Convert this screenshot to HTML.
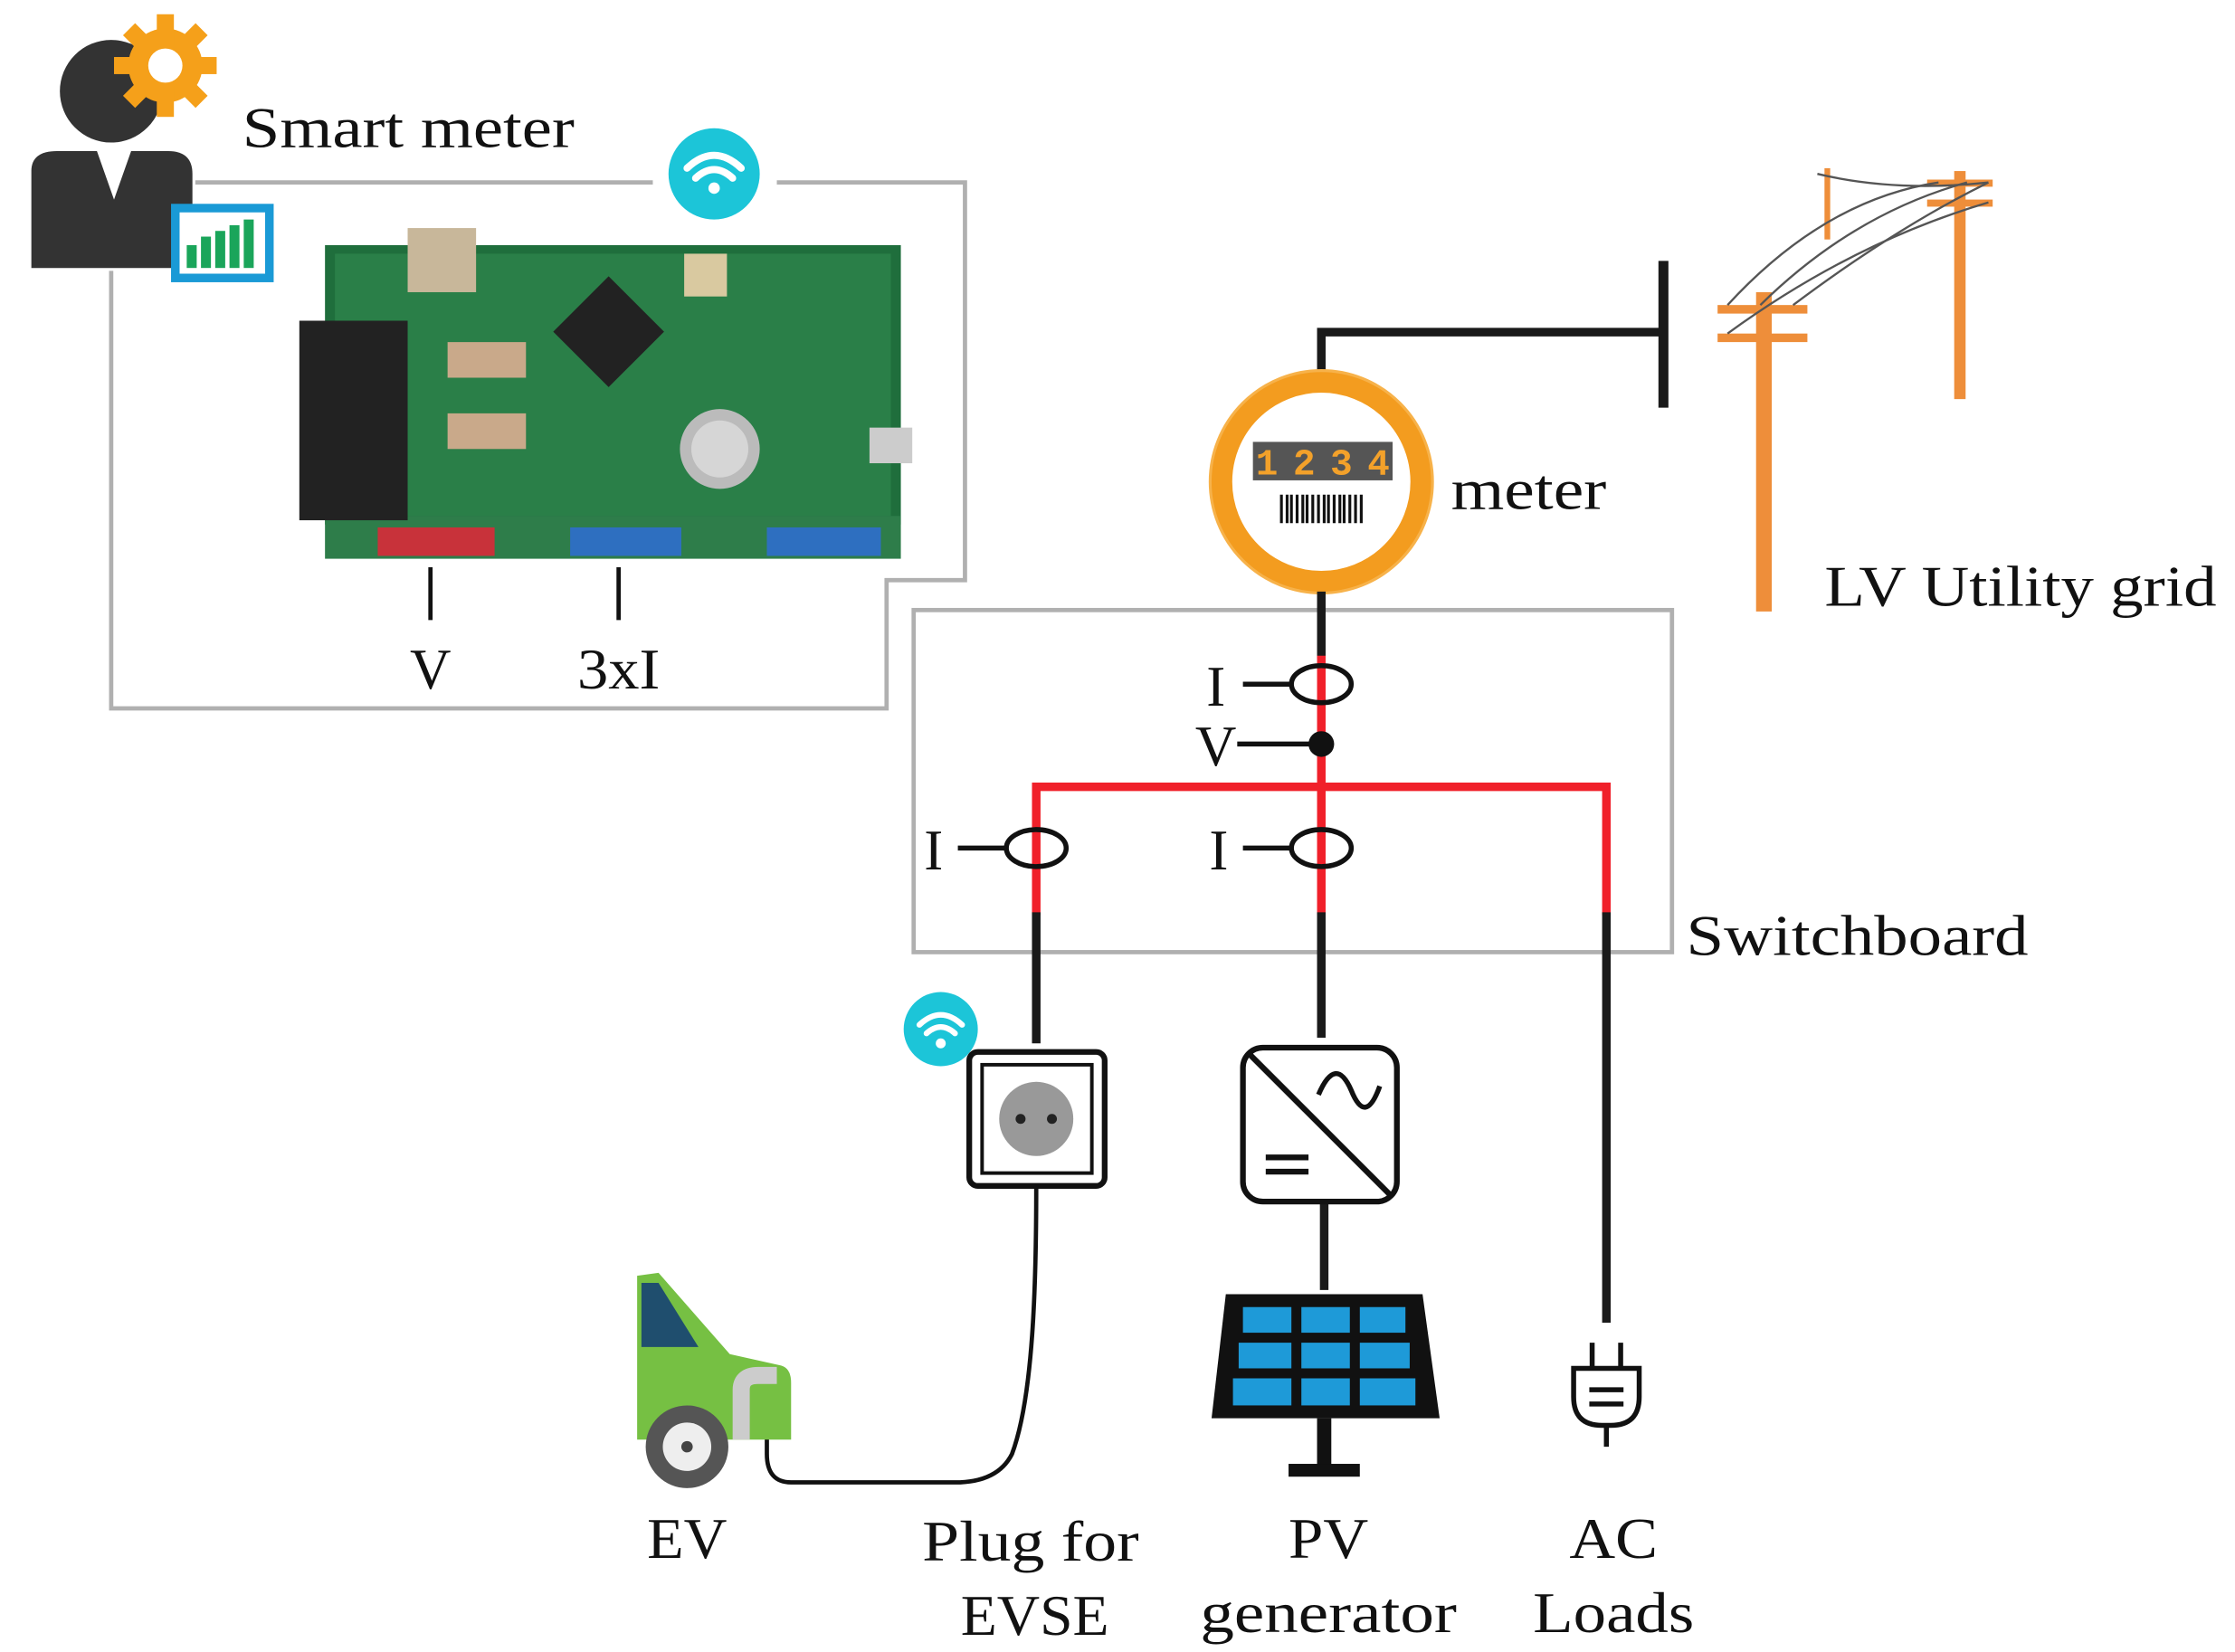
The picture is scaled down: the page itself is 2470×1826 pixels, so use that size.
<!DOCTYPE html>
<html><head><meta charset="utf-8"><style>html,body{margin:0;padding:0;background:#fff}svg{display:block}</style></head><body>
<svg width="2470" height="1826" viewBox="0 0 1568 1159" preserveAspectRatio="none" xmlns="http://www.w3.org/2000/svg" font-family="'Liberation Serif',serif">
<rect width="1568" height="1159" fill="#fff"/>
<!-- person -->
<circle cx="78" cy="64" r="36" fill="#333"/>
<g transform="translate(116,46)">
<circle r="26" fill="#f5a01a"/>
<g fill="#f5a01a"><rect x="-6" y="-36" width="12" height="72"/><rect x="-36" y="-6" width="72" height="12"/><rect x="-6" y="-36" width="12" height="72" transform="rotate(45)"/><rect x="-6" y="-36" width="12" height="72" transform="rotate(-45)"/></g>
<circle r="12" fill="#fff"/></g>
<path d="M22,120 Q22,106 40,106 L118,106 Q135,106 135,122 L135,188 L22,188 Z" fill="#333"/>
<path d="M68,106 L80,140 L92,106 Z" fill="#fff"/>
<rect x="120" y="143" width="72" height="55" fill="#1a9ad6"/>
<rect x="126" y="149" width="60" height="43" fill="#fff"/>
<g fill="#1aa55a"><rect x="131" y="172" width="7" height="16"/><rect x="141" y="166" width="7" height="22"/><rect x="151" y="162" width="7" height="26"/><rect x="161" y="158" width="7" height="30"/><rect x="171" y="154" width="7" height="34"/></g>
<text x="170" y="103" font-size="40" fill="#111" textLength="233" lengthAdjust="spacingAndGlyphs">Smart meter</text>
<path d="M137,128 L458,128 M545,128 L677,128 L677,407 L622,407 L622,497 L78,497 L78,190" fill="none" stroke="#b0b0b0" stroke-width="3"/>
<circle cx="501" cy="122" r="32" fill="#1cc5d8"/>
<g fill="none" stroke="#fff" stroke-width="5" stroke-linecap="round"><path d="M482,118 Q501,100 520,118"/><path d="M488,125 Q501,113 514,125"/></g><circle cx="501" cy="132" r="4" fill="#fff"/>
<!-- PCB -->
<rect x="228" y="172" width="404" height="196" fill="#1f6e3c"/>
<rect x="235" y="178" width="390" height="184" fill="#2a7f48"/>
<rect x="228" y="362" width="404" height="30" fill="#2e7d4a"/>
<rect x="286" y="160" width="48" height="45" fill="#c8b79a"/>
<rect x="210" y="225" width="76" height="140" fill="#222"/>
<rect x="400" y="205" width="55" height="55" fill="#222" transform="rotate(45 427 232)"/>
<circle cx="505" cy="315" r="28" fill="#bbb"/><circle cx="505" cy="315" r="20" fill="#d6d6d6"/>
<rect x="480" y="178" width="30" height="30" fill="#d9c9a0"/>
<rect x="314" y="240" width="55" height="25" fill="#c9a98a"/><rect x="314" y="290" width="55" height="25" fill="#c9a98a"/>
<rect x="265" y="370" width="82" height="20" fill="#c8323a"/>
<rect x="400" y="370" width="78" height="20" fill="#2e6fc0"/>
<rect x="538" y="370" width="80" height="20" fill="#2e6fc0"/>
<rect x="610" y="300" width="30" height="25" fill="#ccc"/>
<g stroke="#111" stroke-width="3"><line x1="302" y1="398" x2="302" y2="435"/><line x1="434" y1="398" x2="434" y2="435"/></g>
<g font-size="40" fill="#111" text-anchor="middle"><text x="302" y="483">V</text><text x="434" y="483" textLength="58" lengthAdjust="spacingAndGlyphs">3xI</text></g>
<!-- grid connection -->
<path d="M927,262 L927,233 L1167,233" fill="none" stroke="#1a1a1a" stroke-width="6"/>
<line x1="1167" y1="183" x2="1167" y2="286" stroke="#1a1a1a" stroke-width="7"/>
<!-- meter -->
<circle cx="927" cy="338" r="70" fill="#fff" stroke="#f39c1f" stroke-width="15"/>
<circle cx="927" cy="338" r="78" fill="none" stroke="#f7b24a" stroke-width="2"/>
<rect x="879" y="310" width="98" height="27" fill="#555"/>
<g font-family="'Liberation Mono',monospace" font-size="26" fill="#f3a12a" font-weight="bold"><text x="881" y="333" textLength="94">1234</text></g>
<g stroke="#111" stroke-width="2"><path d="M899,347v20M903,347v20M906,347v20M910,347v20M914,347v20M917,347v20M921,347v20M925,347v20M929,347v20M932,347v20M936,347v20M940,347v20M943,347v20M947,347v20M951,347v20M955,347v20"/></g>
<text x="1018" y="357" font-size="40" fill="#111" textLength="109" lengthAdjust="spacingAndGlyphs">meter</text>
<!-- poles -->
<g fill="#ee8e3a"><rect x="1232" y="205" width="11" height="224"/><rect x="1205" y="214" width="63" height="6"/><rect x="1205" y="234" width="63" height="6"/>
<rect x="1371" y="120" width="8" height="160"/><rect x="1352" y="126" width="46" height="5"/><rect x="1352" y="140" width="46" height="5"/><rect x="1280" y="118" width="4" height="50"/></g>
<g fill="none" stroke="#555" stroke-width="1.5"><path d="M1212,214 Q1280,140 1360,128"/><path d="M1235,214 Q1300,150 1380,128"/><path d="M1258,214 Q1330,160 1395,128"/><path d="M1212,234 Q1300,170 1395,142"/><path d="M1275,122 Q1330,135 1395,128"/></g>
<text x="1280" y="425" font-size="40" fill="#111" textLength="275" lengthAdjust="spacingAndGlyphs">LV Utility grid</text>
<!-- switchboard -->
<rect x="641" y="428" width="532" height="240" fill="none" stroke="#b0b0b0" stroke-width="3"/>
<text x="1183" y="670" font-size="40" fill="#111" textLength="240" lengthAdjust="spacingAndGlyphs">Switchboard</text>
<g fill="none" stroke-width="6">
<line x1="927" y1="415" x2="927" y2="462" stroke="#1a1a1a"/>
<line x1="927" y1="460" x2="927" y2="642" stroke="#f0202a"/>
<line x1="927" y1="640" x2="927" y2="728" stroke="#1a1a1a"/>
<path d="M727,642 L727,552 L1127,552 L1127,642" stroke="#f0202a"/>
<line x1="727" y1="640" x2="727" y2="732" stroke="#1a1a1a"/>
<line x1="1127" y1="640" x2="1127" y2="928" stroke="#1a1a1a"/>
<line x1="929" y1="843" x2="929" y2="905" stroke="#1a1a1a"/>
</g>
<g fill="none" stroke="#111" stroke-width="3.5">
<ellipse cx="927" cy="480" rx="21" ry="13"/><line x1="872" y1="480" x2="906" y2="480"/>
<line x1="868" y1="522" x2="927" y2="522"/>
<ellipse cx="727" cy="595" rx="21" ry="13"/><line x1="672" y1="595" x2="706" y2="595"/>
<ellipse cx="927" cy="595" rx="21" ry="13"/><line x1="872" y1="595" x2="906" y2="595"/>
</g>
<circle cx="927" cy="522" r="9" fill="#111"/>
<g font-size="40" fill="#111" text-anchor="middle"><text x="853" y="495">I</text><text x="853" y="537">V</text><text x="655" y="610">I</text><text x="855" y="610">I</text></g>
<!-- socket -->
<circle cx="660" cy="722" r="26" fill="#1cc5d8"/>
<g fill="none" stroke="#fff" stroke-width="4" stroke-linecap="round"><path d="M645,719 Q660,705 675,719"/><path d="M650,725 Q660,716 670,725"/></g><circle cx="660" cy="732" r="3.5" fill="#fff"/>
<rect x="680" y="738" width="95" height="94" rx="6" fill="#fff" stroke="#111" stroke-width="4"/>
<rect x="689" y="747" width="77" height="76" fill="#fff" stroke="#111" stroke-width="2.5"/>
<circle cx="727" cy="785" r="26" fill="#999"/><circle cx="716" cy="785" r="3.5" fill="#222"/><circle cx="738" cy="785" r="3.5" fill="#222"/>
<path d="M727,832 C727,900 725,980 710,1020 Q700,1040 670,1040 L555,1040 Q538,1040 538,1020 L538,1005" fill="none" stroke="#111" stroke-width="3"/>
<!-- car -->
<path d="M447,895 L462,893 L512,950 L548,958 Q555,960 555,970 L555,1010 L447,1010 Z" fill="#76c043"/>
<path d="M450,900 L462,900 L490,945 L450,945 Z" fill="#1f4e6e"/>
<path d="M520,1010 L520,975 Q520,965 532,965 L545,965" fill="none" stroke="#ccc" stroke-width="12"/>
<circle cx="482" cy="1015" r="29" fill="#555"/><circle cx="482" cy="1015" r="17" fill="#eee"/><circle cx="482" cy="1015" r="4" fill="#444"/>
<!-- inverter -->
<rect x="872" y="735" width="108" height="108" rx="14" fill="#fff" stroke="#111" stroke-width="4"/>
<line x1="877" y1="740" x2="975" y2="838" stroke="#111" stroke-width="4"/>
<path d="M925,768 Q937,740 948,765 Q958,790 968,762" fill="none" stroke="#111" stroke-width="3.5"/>
<g stroke="#111" stroke-width="4"><line x1="888" y1="812" x2="918" y2="812"/><line x1="888" y1="822" x2="918" y2="822"/></g>
<!-- PV panel -->
<path d="M860,908 L998,908 L1010,995 L850,995 Z" fill="#111"/>
<g fill="#1e9ad8">
<rect x="872" y="917" width="34" height="18"/><rect x="913" y="917" width="34" height="18"/><rect x="954" y="917" width="32" height="18"/>
<rect x="869" y="942" width="37" height="18"/><rect x="913" y="942" width="34" height="18"/><rect x="954" y="942" width="35" height="18"/>
<rect x="865" y="967" width="41" height="19"/><rect x="913" y="967" width="34" height="19"/><rect x="954" y="967" width="39" height="19"/></g>
<rect x="924" y="995" width="10" height="35" fill="#111"/><rect x="904" y="1027" width="50" height="9" fill="#111"/>
<!-- AC plug -->
<g fill="none" stroke="#111" stroke-width="3.5">
<path d="M1117,960 L1117,942 M1137,960 L1137,942"/>
<path d="M1104,960 L1150,960 L1150,980 Q1150,1000 1130,1000 L1124,1000 Q1104,1000 1104,980 Z"/>
<path d="M1115,975 L1139,975 M1115,985 L1139,985 M1127,1000 L1127,1015"/></g>
<g font-size="40" fill="#111" text-anchor="middle" lengthAdjust="spacingAndGlyphs">
<text x="482" y="1093" textLength="56" lengthAdjust="spacingAndGlyphs">EV</text>
<text x="723" y="1095" textLength="152" lengthAdjust="spacingAndGlyphs">Plug for</text><text x="726" y="1147" textLength="104" lengthAdjust="spacingAndGlyphs">EVSE</text>
<text x="932" y="1093" textLength="56" lengthAdjust="spacingAndGlyphs">PV</text><text x="932" y="1145" textLength="180" lengthAdjust="spacingAndGlyphs">generator</text>
<text x="1132" y="1093" textLength="62" lengthAdjust="spacingAndGlyphs">AC</text><text x="1132" y="1145" textLength="113" lengthAdjust="spacingAndGlyphs">Loads</text>
</g>
</svg>
</body></html>
